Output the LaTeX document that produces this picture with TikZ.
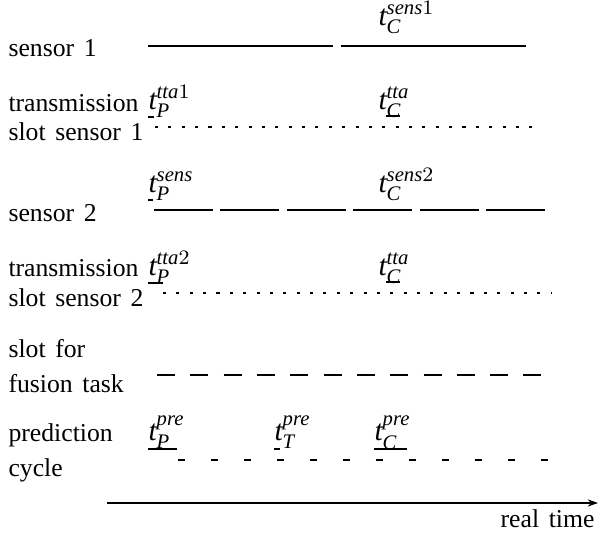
\documentclass[tikz,border=0pt]{standalone}
\usepackage{amsmath}
\usepackage{fontspec}
\setmainfont[WordSpace=1.5]{Liberation Serif}
\usetikzlibrary{arrows.meta}

\newcommand{\tpt}[2]{$\textit{t}^{#2}_{\textit{#1}}$}

\tikzset{
  rowlabel/.style={anchor=base west, inner sep=0pt},
  tlabel/.style={anchor=base west, inner sep=0pt, font=\fontsize{11.5}{14}\selectfont},
  sensline/.style={line width=0.85pt},
  slotline/.style={line width=1pt, dash pattern=on 1.2pt off 4pt},
  fusionline/.style={line width=1.15pt, dash pattern=on 7pt off 5.96pt},
  predline/.style={line width=1.15pt, dash pattern=on 2.72pt off 10.1pt},
  ulmark/.style={line width=0.4pt}
}

\begin{document}
\begin{tikzpicture}[x=0.389pt, y=-0.389pt, >=Stealth]
  \useasboundingbox (0,0) rectangle (598,538);
  % row labels
  \node[rowlabel] (sens1) at (8,57) {sensor 1};
  \node[rowlabel] (tra1) at (8,112) {transmission};
  \node[rowlabel] (slot1) at (8,141) {slot sensor 1};
  \node[rowlabel] (sens2) at (8,222) {sensor 2};
  \node[rowlabel] (tra2) at (8,277) {transmission};
  \node[rowlabel] (slot2) at (8,307) {slot sensor 2};
  \node[rowlabel] (fus1) at (8,358) {slot for};
  \node[rowlabel] (fus2) at (8,393) {fusion task};
  \node[rowlabel] (pred1) at (8,442) {prediction};
  \node[rowlabel] (pred2) at (8,477) {cycle};
  % time points
  \node[tlabel] (tcs1) at (378,26) {\tpt{C}{\textit{sens}1}};
  \node[tlabel] (tpa1) at (148,110) {\tpt{P}{\textit{tta}1}};
  \node[tlabel] (tca1) at (378,110) {\tpt{C}{\textit{tta}}};
  \node[tlabel] (tps) at (148,193) {\tpt{P}{\textit{sens}}};
  \node[tlabel] (tcs2) at (378,193) {\tpt{C}{\textit{sens}2}};
  \node[tlabel] (tpa2) at (148,276) {\tpt{P}{\textit{tta}2}};
  \node[tlabel] (tca2) at (378,276) {\tpt{C}{\textit{tta}}};
  \node[tlabel] (tpp) at (148,441) {\tpt{P}{\textit{pre}}};
  \node[tlabel] (ttp) at (274,441) {\tpt{T}{\textit{pre}}};
  \node[tlabel] (tcp) at (374,441) {\tpt{C}{\textit{pre}}};
  % underlines
  \draw[ulmark] (148,117) -- (154,117);
  \draw[ulmark] (386,116) -- (400,116);
  \draw[ulmark] (148,200) -- (153,200);
  \draw[ulmark] (148,283) -- (163,283);
  \draw[ulmark] (386,282) -- (400,282);
  \draw[ulmark] (148,449) -- (177,449);
  \draw[ulmark] (274,449) -- (280,449);
  \draw[ulmark] (374,449) -- (407,449);
  % time lines
  \draw[sensline, dash pattern=on 71.97pt off 3.11pt] (148,46) -- (527,46);
  \draw[slotline] (155,127) -- (541,127);
  \draw[sensline, dash pattern=on 22.95pt off 2.88pt] (154,210) -- (546,210);
  \draw[slotline] (163,293) -- (551,293);
  \draw[fusionline] (157,375) -- (541,375);
  \draw[predline] (178,460) -- (549,460);
  % real time axis
  \coordinate (t0) at (107,503);
  \coordinate (t1) at (598,503);
  \draw[line width=0.4pt, -{Stealth[length=4pt, width=2.8pt]}] (t0) -- (t1);
  \node[anchor=base east, inner sep=0pt] (rt) at (595,528) {real time};
\end{tikzpicture}
\end{document}
